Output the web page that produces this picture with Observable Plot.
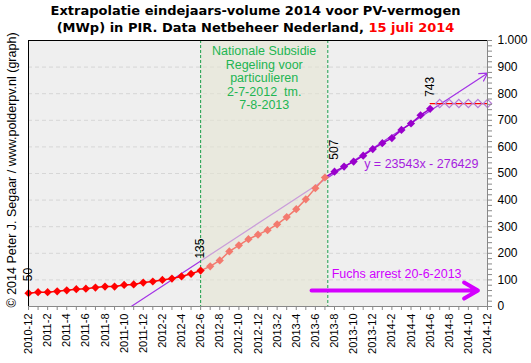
<!DOCTYPE html>
<html><head><meta charset="utf-8">
<script src="https://cdn.jsdelivr.net/npm/d3@7"></script>
<script src="https://cdn.jsdelivr.net/npm/@observablehq/plot@0.6"></script>
<style>
body{margin:0;background:#fff;}
#wrap{position:relative;width:531px;height:363px;overflow:hidden;}
#title{position:absolute;left:0;top:2px;width:511px;text-align:center;font-family:"DejaVu Sans";font-weight:bold;font-size:13px;line-height:17px;color:#000;}
#copy{position:absolute;left:12px;top:170px;transform-origin:0 0;transform:rotate(-90deg) translate(-50%,-50%);white-space:nowrap;font-family:"Liberation Sans";font-size:12.5px;color:#000;}
</style></head>
<body>
<div id="wrap">
<div id="chart"></div>
<div id="title">Extrapolatie eindejaars-volume 2014 voor PV-vermogen<br>(MWp) in PIR. Data Netbeheer Nederland, <span style="color:#ff0000">15 juli 2014</span></div>
<div id="copy">© 2014 Peter J. Segaar / www.polderpv.nl (graph)</div>
</div>
<script>
const months = ["2010-12",
 "2011-1","2011-2","2011-3","2011-4","2011-5","2011-6","2011-7","2011-8","2011-9","2011-10","2011-11","2011-12",
 "2012-1","2012-2","2012-3","2012-4","2012-5","2012-6","2012-7","2012-8","2012-9","2012-10","2012-11","2012-12",
 "2013-1","2013-2","2013-3","2013-4","2013-5","2013-6","2013-7","2013-8","2013-9","2013-10","2013-11","2013-12",
 "2014-1","2014-2","2014-3","2014-4","2014-5","2014-6","2014-7","2014-8","2014-9","2014-10","2014-11","2014-12"];
// MWp, 2010-12 .. 2012-6 (before subsidy)
const beforeVals = [50,54,54,57,61,65,67,71,75,75,81,83,90,94,100,105,113,123,135];
// 2012-7 .. 2013-7 (subsidy period)
const subsidyVals = [151,173,207,230,253,270,287,309,336,366,403,445,485];
// 2013-8 .. 2014-6 (after subsidy)
const afterVals = [507,526,545,567,592,614,633,664,688,719,743];
// 2014-7 .. 2014-12 projection
const projVals = [763,763,763,763,763,763];
const labeledMonths = ["2010-12","2012-6","2013-8","2014-6"];
const trendSlope = 23543, trendIntercept = -276429; // kWp per month-index (1-based)
const subsidyStart = "2012-6", subsidyEndFrac = 31.3;

const idx = m => months.indexOf(m);
const before = beforeVals.map((v,k)=>({i:k, v}));
const subsidy = subsidyVals.map((v,k)=>({i:before.length+k, v}));
const after = afterVals.map((v,k)=>({i:before.length+subsidy.length+k, v}));
const proj = projVals.map((v,k)=>({i:before.length+subsidy.length+after.length+k, v}));
const actual = [...before, ...subsidy, ...after];
const labeled = labeledMonths.map(m => actual[idx(m)]);
const trend = i => (trendSlope*(i+1) + trendIntercept)/1000;
const lastI = months.length-1;
const trendStart = -trendIntercept/trendSlope - 1;

const nl = d3.formatLocale({decimal:",", thousands:".", grouping:[3], currency:["€",""]}).format(",");
const F = "Liberation Sans";

const plot = Plot.plot({
  width:531, height:363,
  marginLeft:28, marginRight:44, marginTop:40, marginBottom:57,
  style:{fontFamily:F, fontSize:"12px", background:"transparent"},
  x:{domain:[0,lastI]},
  y:{domain:[0,1000]},
  marks:[
    Plot.frame({fill:"#efefef", stroke:null}),
    Plot.ruleY(d3.range(100,1000,100), {stroke:"#d6d6d6", strokeDasharray:"4,3"}),
    Plot.arrow([{x1:trendStart, y1:0, x2:lastI, y2:trend(lastI)}], {x1:"x1", y1:"y1", x2:"x2", y2:"y2", stroke:"#a333e6", strokeWidth:1.2, headLength:11, bend:0}),
    Plot.rect([{x1:idx(subsidyStart), x2:subsidyEndFrac}], {x1:"x1", x2:"x2", y1:0, y2:1000, fill:"#e5e5d2", fillOpacity:0.6}),
    Plot.ruleX([idx(subsidyStart), subsidyEndFrac], {stroke:"#1a9e4a", strokeDasharray:"3,2"}),
    Plot.line(before, {x:"i", y:"v", stroke:"#ff0000", strokeWidth:1.5}),
    Plot.line([before[before.length-1], ...subsidy], {x:"i", y:"v", stroke:"#f37a6e", strokeWidth:1.5}),
    Plot.line([subsidy[subsidy.length-1], ...after], {x:"i", y:"v", stroke:"#9900cc", strokeWidth:1.5}),
    Plot.line([{i:after[after.length-1].i, v:projVals[0]}, ...proj], {x:"i", y:"v", stroke:"#ff0000", strokeWidth:1.2}),
    Plot.dot(before, {x:"i", y:"v", symbol:"diamond2", r:3.7, fill:"#ff0000"}),
    Plot.dot(subsidy, {x:"i", y:"v", symbol:"diamond2", r:3.7, fill:"#f37a6e"}),
    Plot.dot(after, {x:"i", y:"v", symbol:"diamond2", r:3.7, fill:"#9900cc"}),
    Plot.dot(proj, {x:"i", y:"v", symbol:"diamond2", r:3.7, fill:"none", stroke:"#b57ad9", strokeWidth:1.2}),
    Plot.text(labeled, {x:"i", y:"v", text:d=>String(d.v), rotate:-90, textAnchor:"start", dy:-12, fill:"#000", fontSize:12}),
    Plot.text([`y = ${trendSlope}x - ${-trendIntercept}`], {x:35.1, y:536, textAnchor:"start", fill:"#a61ee0", fontSize:12.5}),
    Plot.text(["Nationale Subsidie\nRegeling voor\nparticulieren\n2-7-2012  tm.\n7-8-2013"], {x:(idx(subsidyStart)+subsidyEndFrac)/2, y:1000, dy:5, lineAnchor:"top", lineHeight:1.08, fill:"#22b552", fontSize:12.5, textAnchor:"middle"}),
    Plot.text(["Fuchs arrest 20-6-2013"], {x:31.7, y:124, textAnchor:"start", fill:"#d000ff", fontSize:12.5}),
    Plot.arrow([{x1:29.6, x2:47.0, y:60}], {x1:"x1", x2:"x2", y1:"y", y2:"y", stroke:"#d400ff", strokeWidth:4, headLength:6, bend:0}),
    Plot.ruleY([0], {stroke:"#888"}),
    Plot.ruleY([1000], {stroke:"#000"}),
    Plot.ruleX([0], {stroke:"#000"}),
    Plot.ruleX([lastI], {stroke:"#888"}),
    Plot.axisX({ticks:d3.range(0,months.length), tickSize:4, tickFormat:()=>"", stroke:"#888", label:null}),
    Plot.axisX({ticks:d3.range(0,months.length,2), tickSize:0, tickPadding:7, tickRotate:-90, tickFormat:i=>months[i], fill:"#000", fontSize:11, label:null}),
    Plot.axisY({anchor:"right", ticks:d3.range(0,1001,20), tickSize:4, tickFormat:()=>"", stroke:"#888", label:null}),
    Plot.axisY({anchor:"right", ticks:d3.range(0,1001,100), tickSize:0, tickPadding:10, tickFormat:d=>nl(d), fill:"#000", fontSize:12, label:null})
  ]
});
document.getElementById("chart").appendChild(plot);
</script>
</body></html>
